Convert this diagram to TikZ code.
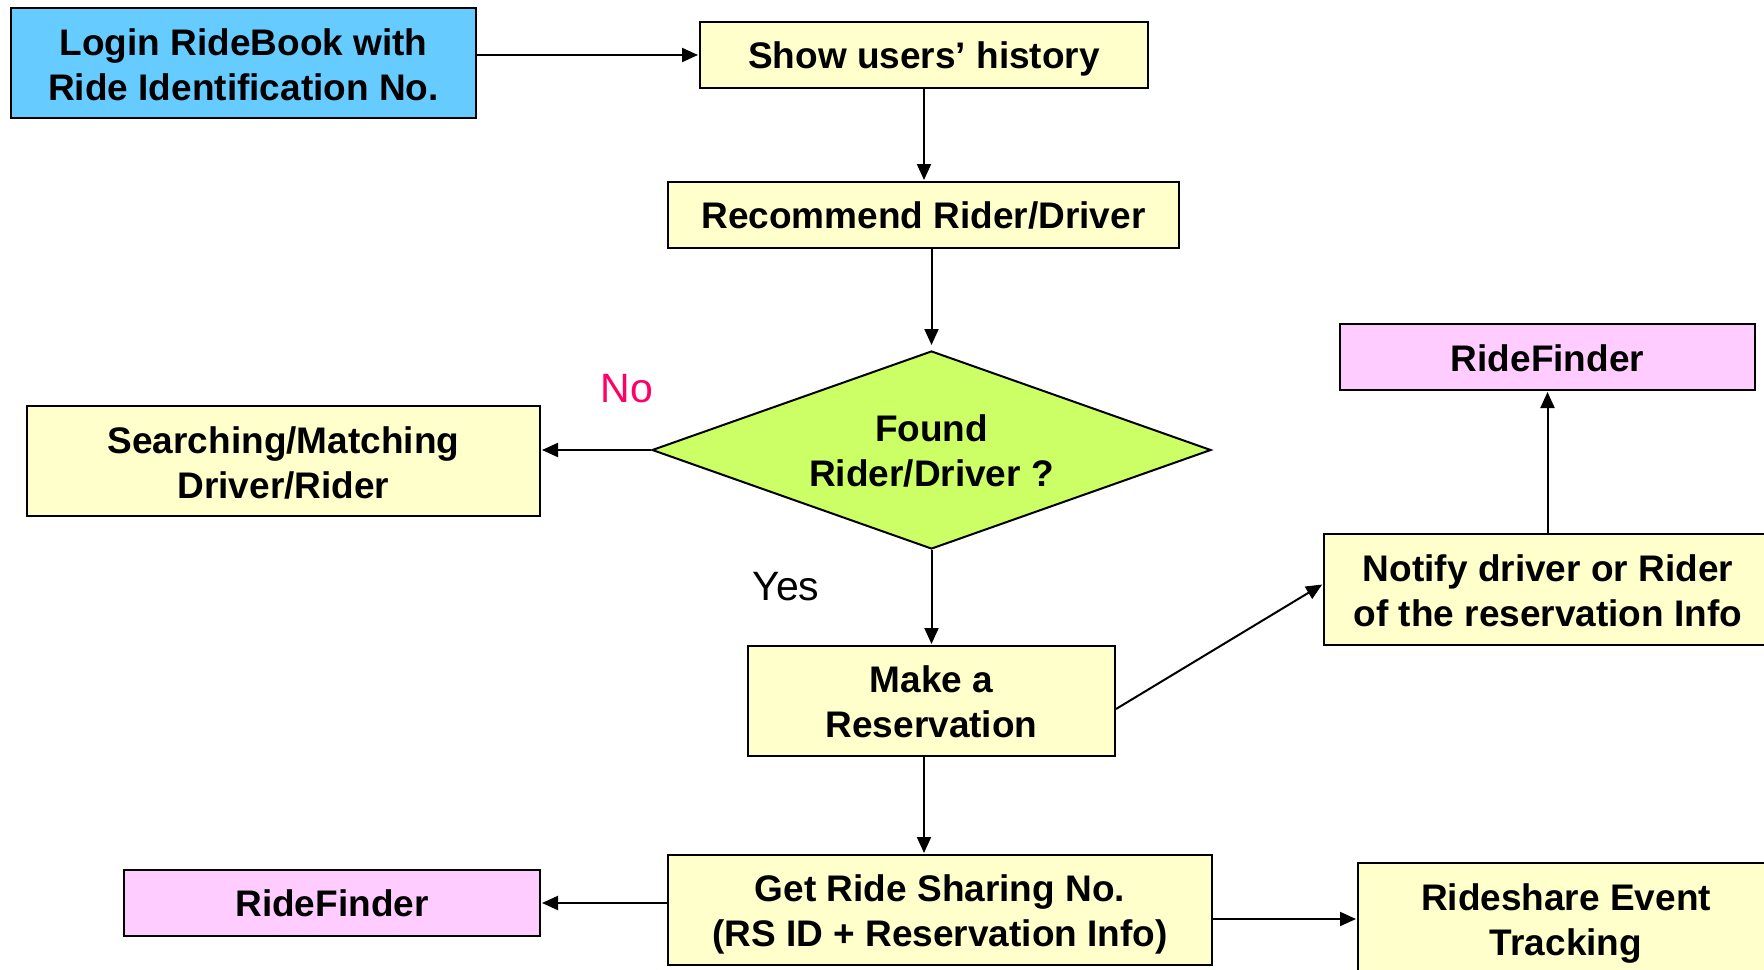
\documentclass[tikz,border=0pt]{standalone}
\usepackage{fontspec}
\setmainfont{Liberation Sans}
\usetikzlibrary{shapes.geometric,arrows.meta}
\definecolor{cblue}{HTML}{66CCFF}
\definecolor{cyel}{HTML}{FFFFCC}
\definecolor{cgreen}{HTML}{CCFF66}
\definecolor{cpink}{HTML}{FFCCFF}
\definecolor{cno}{HTML}{FF0066}
\newcommand\tpad[1]{\rule{0pt}{#1pt}}
\tikzset{
  box/.style={draw=black, line width=2pt, rectangle, inner sep=0pt, align=center,
    font=\fontsize{37}{45}\selectfont\bfseries},
  yel/.style={box, fill=cyel},
  arr/.style={line width=2pt, -{Triangle[length=16pt,width=14pt]}, shorten >=1pt},
  lbl/.style={font=\fontsize{41}{45}\selectfont, inner sep=0pt}
}
\begin{document}
\begin{tikzpicture}[x=1pt,y=-1pt]
\useasboundingbox (0,0) rectangle (1764,969);
\clip (0,0) rectangle (1764,969);
\fill[white] (0,0) rectangle (1764,969);
\node[box, fill=cblue, minimum width=465pt, minimum height=110pt] (login) at (243.5,63) {\tpad{30}Login RideBook with\\Ride Identification No.};
\node[yel, minimum width=448pt, minimum height=66pt] (show) at (924,55) {\tpad{34}Show users’ history};
\node[yel, minimum width=511pt, minimum height=66pt] (rec) at (923.5,215) {Recommend Rider/Driver};
\node[box, diamond, fill=cgreen, shape aspect=2.82, minimum width=559pt, minimum height=198pt] (dia) at (931.5,450) {\tpad{29}Found\\Rider/Driver ?};
\node[yel, minimum width=513pt, minimum height=110pt] (search) at (283.5,461) {\tpad{30}Searching/Matching\\Driver/Rider};
\node[yel, minimum width=367pt, minimum height=110pt] (make) at (931.5,701) {\tpad{29}Make a\\Reservation};
\node[yel, minimum width=448pt, minimum height=111pt] (notify) at (1548,589.5) {\tpad{29}Notify driver or Rider\\of the reservation Info};
\node[box, fill=cpink, minimum width=415pt, minimum height=66pt] (rf1) at (1547.5,357) {\tpad{29}RideFinder};
\node[yel, minimum width=544pt, minimum height=110pt] (get) at (940,910) {\tpad{35}Get Ride Sharing No.\\(RS ID + Reservation Info)};
\node[box, fill=cpink, minimum width=416pt, minimum height=66pt] (rf2) at (332,903) {RideFinder};
\node[yel, minimum width=416pt, minimum height=112pt] (track) at (1566,919) {\tpad{36}Rideshare Event\\Tracking};
\node[lbl, text=cno] (no) at (627,389) {No};
\node[lbl] (yes) at (786,587) {Yes};
\draw[arr] (show.west -| login.east) -- (show.west);
\draw[arr] (show.south) -- (show.south |- rec.north);
\draw[arr, shorten >=5pt] (dia.north |- rec.south) -- (dia.north);
\draw[arr] (dia.west) -- (dia.west -| search.east);
\draw[arr] (dia.south) -- (make.north);
\draw[arr] ([yshift=-8pt]make.east) -- ([yshift=5.5pt]notify.west);
\draw[arr] (notify.north -| rf1.south) -- (rf1.south);
\draw[arr] ([xshift=-7.5pt]make.south) -- ([xshift=-7.5pt]make.south |- get.north);
\draw[arr] (rf2.east -| get.west) -- (rf2.east);
\draw[arr] (get.east |- track.west) -- (track.west);
\end{tikzpicture}
\end{document}
